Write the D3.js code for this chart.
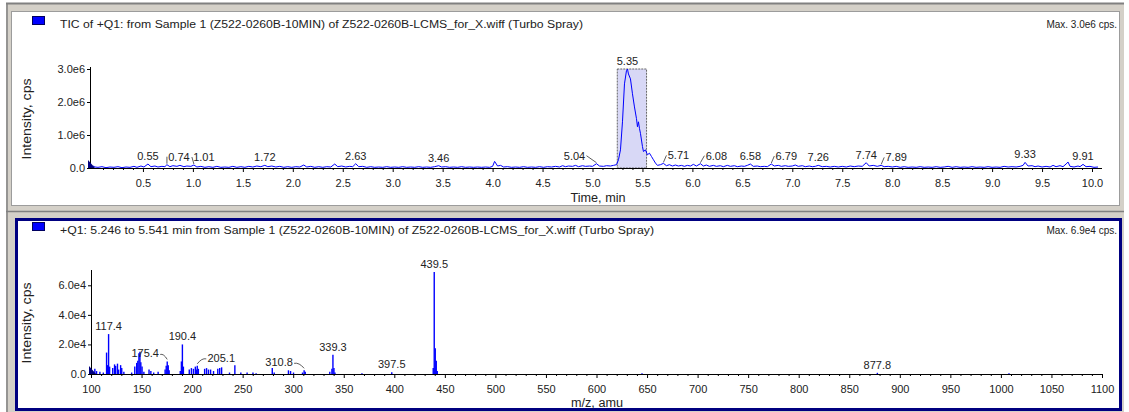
<!DOCTYPE html>
<html><head><meta charset="utf-8">
<script src="https://cdn.jsdelivr.net/npm/d3@7"></script>
<style>
html,body{margin:0;padding:0;background:#fff;}
svg{display:block;font-family:"Liberation Sans",Arial,sans-serif;}
</style></head>
<body><svg id="c" width="1129" height="412"></svg>
<script>
// ---------- DATA ----------
const ticTitle = "TIC of +Q1: from Sample 1 (Z522-0260B-10MIN) of Z522-0260B-LCMS_for_X.wiff (Turbo Spray)";
const ticMax = "Max. 3.0e6 cps.";
const ticXTicks = [0.5,1.0,1.5,2.0,2.5,3.0,3.5,4.0,4.5,5.0,5.5,6.0,6.5,7.0,7.5,8.0,8.5,9.0,9.5,10.0];
const ticYTicks = [0, 1e6, 2e6, 3e6];
const ticYLabels = ["0.0","1.0e6","2.0e6","3.0e6"];
const ticSelection = [5.248, 5.541];
// TIC trace: [time (min), intensity (x1e6 cps)]
const ticTrace = [
[0.00,0.06],[0.02,0.03],[0.05,0.02],[0.09,0.04],[0.13,0.01],[0.17,0.03],[0.21,0.02],[0.25,0.04],[0.29,0.01],[0.33,0.03],[0.37,0.02],[0.41,0.05],[0.44,0.02],[0.48,0.06],[0.51,0.03],[0.55,0.12],[0.58,0.04],[0.62,0.06],[0.65,0.03],[0.69,0.05],[0.72,0.04],[0.74,0.10],[0.77,0.04],[0.80,0.07],[0.84,0.05],[0.87,0.08],[0.91,0.04],[0.94,0.06],[0.98,0.05],[1.01,0.09],[1.04,0.03],[1.08,0.05],[1.12,0.02],[1.16,0.04],[1.20,0.02],[1.24,0.05],[1.28,0.02],[1.32,0.03],[1.36,0.02],[1.40,0.05],[1.44,0.02],[1.48,0.04],[1.52,0.02],[1.56,0.05],[1.60,0.03],[1.64,0.06],[1.68,0.04],[1.72,0.08],[1.75,0.04],[1.79,0.06],[1.83,0.03],[1.87,0.05],[1.91,0.02],[1.95,0.04],[1.99,0.02],[2.03,0.04],[2.07,0.03],[2.11,0.09],[2.14,0.03],[2.18,0.05],[2.22,0.02],[2.26,0.04],[2.30,0.02],[2.34,0.04],[2.38,0.03],[2.42,0.12],[2.45,0.04],[2.49,0.06],[2.53,0.03],[2.57,0.05],[2.60,0.04],[2.63,0.13],[2.66,0.04],[2.70,0.05],[2.74,0.02],[2.78,0.04],[2.82,0.02],[2.86,0.03],[2.90,0.02],[2.94,0.04],[2.98,0.02],[3.02,0.03],[3.06,0.02],[3.10,0.04],[3.14,0.02],[3.18,0.03],[3.22,0.02],[3.26,0.04],[3.30,0.02],[3.34,0.03],[3.38,0.02],[3.42,0.04],[3.46,0.07],[3.49,0.03],[3.53,0.04],[3.57,0.02],[3.61,0.03],[3.65,0.02],[3.69,0.04],[3.73,0.02],[3.77,0.03],[3.81,0.02],[3.85,0.03],[3.89,0.02],[3.93,0.03],[3.97,0.02],[4.00,0.05],[4.02,0.20],[4.05,0.06],[4.08,0.08],[4.11,0.03],[4.15,0.04],[4.19,0.02],[4.23,0.03],[4.27,0.02],[4.31,0.04],[4.35,0.02],[4.39,0.03],[4.43,0.02],[4.47,0.04],[4.51,0.02],[4.55,0.04],[4.59,0.03],[4.63,0.05],[4.67,0.03],[4.70,0.07],[4.73,0.04],[4.76,0.06],[4.80,0.05],[4.83,0.08],[4.86,0.04],[4.90,0.07],[4.93,0.05],[4.97,0.06],[5.00,0.05],[5.04,0.13],[5.07,0.06],[5.11,0.05],[5.14,0.07],[5.18,0.06],[5.21,0.08],[5.24,0.10],[5.26,0.25],[5.28,0.55],[5.30,1.40],[5.32,2.55],[5.34,2.95],[5.35,3.00],[5.36,2.85],[5.38,2.70],[5.40,2.25],[5.42,1.85],[5.44,1.50],[5.45,1.25],[5.46,1.40],[5.47,1.20],[5.48,1.05],[5.50,0.65],[5.51,0.50],[5.53,0.55],[5.55,0.40],[5.57,0.45],[5.59,0.35],[5.61,0.25],[5.63,0.15],[5.65,0.08],[5.68,0.10],[5.71,0.14],[5.74,0.07],[5.77,0.10],[5.80,0.06],[5.83,0.09],[5.86,0.06],[5.89,0.08],[5.92,0.05],[5.95,0.08],[5.98,0.06],[6.01,0.11],[6.04,0.06],[6.08,0.13],[6.11,0.06],[6.14,0.09],[6.17,0.05],[6.21,0.08],[6.24,0.05],[6.28,0.07],[6.31,0.04],[6.35,0.08],[6.38,0.05],[6.42,0.07],[6.45,0.04],[6.49,0.06],[6.52,0.05],[6.55,0.08],[6.58,0.12],[6.61,0.05],[6.65,0.06],[6.68,0.04],[6.72,0.05],[6.75,0.04],[6.79,0.12],[6.82,0.06],[6.86,0.08],[6.89,0.05],[6.93,0.07],[6.96,0.05],[7.00,0.06],[7.03,0.09],[7.06,0.05],[7.10,0.07],[7.13,0.04],[7.17,0.06],[7.20,0.04],[7.23,0.05],[7.26,0.08],[7.30,0.04],[7.34,0.05],[7.38,0.03],[7.42,0.05],[7.46,0.03],[7.50,0.05],[7.54,0.03],[7.58,0.06],[7.62,0.04],[7.66,0.06],[7.70,0.05],[7.74,0.16],[7.77,0.06],[7.81,0.08],[7.85,0.05],[7.89,0.08],[7.92,0.04],[7.96,0.05],[8.00,0.03],[8.04,0.05],[8.08,0.02],[8.12,0.04],[8.16,0.02],[8.20,0.03],[8.24,0.02],[8.28,0.04],[8.32,0.02],[8.36,0.03],[8.40,0.02],[8.44,0.04],[8.48,0.02],[8.52,0.03],[8.56,0.05],[8.60,0.02],[8.64,0.04],[8.68,0.02],[8.72,0.03],[8.76,0.02],[8.80,0.04],[8.84,0.02],[8.88,0.03],[8.92,0.02],[8.96,0.04],[9.00,0.02],[9.04,0.03],[9.08,0.02],[9.12,0.05],[9.16,0.03],[9.20,0.04],[9.24,0.03],[9.28,0.05],[9.31,0.08],[9.33,0.17],[9.36,0.06],[9.40,0.07],[9.43,0.04],[9.46,0.06],[9.50,0.03],[9.54,0.05],[9.58,0.03],[9.61,0.08],[9.64,0.04],[9.68,0.07],[9.71,0.04],[9.74,0.12],[9.76,0.18],[9.78,0.05],[9.82,0.03],[9.86,0.06],[9.88,0.04],[9.91,0.11],[9.94,0.04],[9.98,0.05],[10.02,0.02],[10.06,0.03]
];
const ticPeakLabels = ["0.55","0.74","1.01","1.72","2.63","3.46","5.04","5.35","5.71","6.08","6.58","6.79","7.26","7.74","7.89","9.33","9.91"];

const msTitle = "+Q1: 5.246 to 5.541 min from Sample 1 (Z522-0260B-10MIN) of Z522-0260B-LCMS_for_X.wiff (Turbo Spray)";
const msMax = "Max. 6.9e4 cps.";
const msXTicks = [100,150,200,250,300,350,400,450,500,550,600,650,700,750,800,850,900,950,1000,1050,1100];
const msYTicks = [0, 2e4, 4e4, 6e4];
const msYLabels = ["0.0","2.0e4","4.0e4","6.0e4"];
// Mass spectrum sticks: [m/z, intensity (x1e4 cps)]
const msSticks = [
[101.5,0.15],[103.8,0.35],[105.5,0.2],[108.8,0.15],[112.2,0.1],[115.4,1.45],[116.3,0.6],[117.4,2.7],[118.4,0.5],[121.5,0.4],[123.3,0.65],[124.4,0.55],[126.2,0.7],[127.3,0.3],[129.3,0.6],[130.4,0.4],[132.5,0.15],[140.2,0.1],[143.3,0.5],[145.2,0.75],[146.3,0.9],[147.4,1.4],[148.4,1.5],[149.3,0.8],[150.5,0.5],[152.3,0.15],[157.4,0.3],[159.2,0.2],[162.0,0.1],[166.4,0.15],[173.3,0.3],[174.4,0.55],[175.4,0.85],[176.4,0.6],[177.3,0.25],[188.3,0.2],[189.4,0.85],[190.4,2.0],[191.4,0.5],[197.2,0.3],[199.3,0.4],[201.3,0.35],[203.2,0.5],[204.2,0.3],[205.1,0.55],[206.2,0.35],[212.4,0.35],[214.3,0.4],[216.2,0.3],[218.3,0.3],[221.2,0.2],[225.4,0.35],[227.3,0.4],[229.2,0.45],[237.0,0.1],[242.3,0.6],[248.2,0.1],[254.4,0.1],[260.2,0.1],[263.3,0.05],[279.3,0.4],[281.2,0.1],[295.3,0.25],[297.4,0.2],[300.3,0.1],[309.2,0.1],[310.8,0.25],[311.9,0.15],[336.2,0.15],[338.3,0.35],[339.3,1.3],[340.3,0.4],[341.3,0.1],[368.0,0.05],[397.5,0.12],[438.5,0.4],[439.5,6.9],[440.5,1.75],[441.5,0.9],[442.5,0.2],[645.0,0.05],[877.8,0.08],[1008.0,0.05]
];
const msPeakLabels = ["117.4","175.4","190.4","205.1","310.8","339.3","397.5","439.5","877.8"];

// ---------- LAYOUT ----------
const svg = d3.select("#c");
const FONT = "11px";
const TXT = "#222";
const BLUE = "#0000ff";

// window frame
svg.append("rect").attr("x",6).attr("y",3).attr("width",1118).attr("height",409).attr("fill","#d4d0c8");
svg.append("line").attr("x1",6).attr("x2",1124).attr("y1",3.5).attr("y2",3.5).attr("stroke","#808080").attr("stroke-width",2);
svg.append("line").attr("x1",7).attr("x2",7).attr("y1",3).attr("y2",412).attr("stroke","#808080").attr("stroke-width",1.5);
svg.append("line").attr("x1",6).attr("x2",1124).attr("y1",211.5).attr("y2",211.5).attr("stroke","#808080").attr("stroke-width",1.5);
// top pane
svg.append("rect").attr("x",11.5).attr("y",11.5).attr("width",1108).attr("height",194).attr("fill","#fff").attr("stroke","#9c9c9c");
// bottom pane (active)
svg.append("rect").attr("x",16.5).attr("y",219.5).attr("width",1104).attr("height",190).attr("fill","#fff").attr("stroke","#000080").attr("stroke-width",3);

function paneHeader(y, title, titleLen, maxText){
  svg.append("rect").attr("x",32.5).attr("y",y-11.5).attr("width",12).attr("height",8).attr("fill","#0000ff").attr("stroke","#000060");
  svg.append("text").attr("x",60).attr("y",y).attr("font-size","10px").attr("fill",TXT)
    .attr("textLength",titleLen).attr("lengthAdjust","spacingAndGlyphs").text(title);
  svg.append("text").attr("x",1117).attr("y",y).attr("font-size","10px").attr("fill",TXT)
    .attr("text-anchor","end").text(maxText);
}

function axes(x, y, xTicks, xMinor, yTicks, yLabels, xFmt, x0, y0, yTop, xEnd){
  // x axis
  const gx = svg.append("g").attr("transform",`translate(0,${y0})`)
    .call(d3.axisBottom(x).tickValues(xTicks).tickSize(4).tickPadding(7).tickFormat(xFmt));
  gx.select(".domain").remove();
  gx.append("line").attr("x1",x0).attr("x2",xEnd).attr("y1",0.5).attr("y2",0.5).attr("stroke","#000");
  gx.selectAll("text").attr("font-size",FONT).attr("fill",TXT).attr("font-family","Liberation Sans, Arial, sans-serif");
  const gm = svg.append("g").attr("transform",`translate(0,${y0})`)
    .call(d3.axisBottom(x).tickValues(xMinor).tickSize(2).tickFormat(""));
  gm.select(".domain").remove();
  // y axis
  const gy = svg.append("g").attr("transform",`translate(${x0},0)`)
    .call(d3.axisLeft(y).tickValues(yTicks).tickSize(3).tickPadding(2).tickFormat((d,i)=>yLabels[i]));
  gy.select(".domain").remove();
  gy.append("line").attr("x1",0.5).attr("x2",0.5).attr("y1",y0+0.5).attr("y2",yTop).attr("stroke","#000");
  gy.selectAll("text").attr("font-size",FONT).attr("fill",TXT).attr("font-family","Liberation Sans, Arial, sans-serif");
  // start marker
  svg.append("path").attr("d",`M${x0-2},${y0-8} L${x0+5},${y0} L${x0-2},${y0} Z`).attr("fill","#000080");
}

function yTitle(cx, cy, len){
  svg.append("text").attr("transform",`translate(${cx},${cy}) rotate(-90)`).attr("text-anchor","middle")
    .attr("font-size","12.5px").attr("fill",TXT).attr("textLength",len).attr("lengthAdjust","spacingAndGlyphs").text("Intensity, cps");
}

// ---------- TOP: TIC ----------
paneHeader(28, ticTitle, 523, ticMax);
const xT = d3.scaleLinear().domain([-0.03, 10.1]).range([90, 1102]);
const yT = d3.scaleLinear().domain([0, 3.0]).range([168, 69]);

svg.append("rect").attr("x",xT(ticSelection[0])).attr("y",yT(3.0))
  .attr("width",xT(ticSelection[1])-xT(ticSelection[0])).attr("height",yT(0)-yT(3.0))
  .attr("fill","#d8d8f6").attr("stroke","#666").attr("stroke-dasharray","2,1");

svg.append("path").datum(ticTrace).attr("fill","none").attr("stroke",BLUE).attr("stroke-width",1)
  .attr("d", d3.line().x(d=>xT(d[0])).y(d=>yT(d[1])));

const ticMinor = d3.range(1, 101).map(i=>i/10).filter(v=>Math.abs(v*2-Math.round(v*2))>1e-6);
axes(xT, yT, ticXTicks, ticMinor, ticYTicks.map(v=>v/1e6), ticYLabels, d3.format(".1f"), 90, 168, 67, 1102);
yTitle(31, 119, 81);
svg.append("text").attr("x",598).attr("y",202).attr("text-anchor","middle").attr("font-size","12px").attr("fill",TXT)
  .attr("textLength",55).attr("lengthAdjust","spacingAndGlyphs").text("Time, min");

// peak labels (label offsets in px for crowded labels)
const ticShift = {"0.74":12,"1.01":10,"5.04":-22,"5.71":15,"6.08":16,"6.79":15,"7.89":15};
ticPeakLabels.forEach(lbl=>{
  const t = +lbl;
  const pt = ticTrace.reduce((a,b)=>Math.abs(b[0]-t)<Math.abs(a[0]-t)?b:a);
  const px = xT(t), py = yT(pt[1]);
  const dx = ticShift[lbl] || 0;
  svg.append("text").attr("x",px+dx).attr("y",py-4).attr("text-anchor","middle")
    .attr("font-size",FONT).attr("fill",TXT).text(lbl);
  if(dx){
    const ex = dx>0 ? px+dx-12 : px+dx+12;
    svg.append("path").attr("d",`M${ex},${py-8} L${px},${py-1}`).attr("stroke","#333").attr("fill","none").attr("stroke-width",0.8);
  }
});

// ---------- BOTTOM: spectrum ----------
paneHeader(234, msTitle, 594, msMax);
const xM = d3.scaleLinear().domain([100, 1100]).range([91, 1102]);
const yM = d3.scaleLinear().domain([0, 6.9]).range([374, 272]);

svg.append("g").selectAll("line").data(msSticks).join("line")
  .attr("x1",d=>xM(d[0])).attr("x2",d=>xM(d[0]))
  .attr("y1",yM(0)).attr("y2",d=>yM(d[1]))
  .attr("stroke",BLUE).attr("stroke-width",1.4);

const msMinor = d3.range(110, 1100, 10).filter(v=>v%50!==0);
axes(xM, yM, msXTicks, msMinor, msYTicks.map(v=>v/1e4), msYLabels, d3.format("d"), 91, 374, 270, 1102);
yTitle(31, 323, 81);
svg.append("text").attr("x",597).attr("y",407).attr("text-anchor","middle").attr("font-size","12px").attr("fill",TXT)
  .attr("textLength",52).attr("lengthAdjust","spacingAndGlyphs").text("m/z, amu");

const msShift = {"175.4":-22,"205.1":24,"310.8":-25};
msPeakLabels.forEach(lbl=>{
  const m = +lbl;
  const pt = msSticks.reduce((a,b)=>Math.abs(b[0]-m)<Math.abs(a[0]-m)?b:a);
  const px = xM(m), py = yM(pt[1]);
  const dx = msShift[lbl] || 0;
  svg.append("text").attr("x",px+dx).attr("y",py-4).attr("text-anchor","middle")
    .attr("font-size",FONT).attr("fill",TXT).text(lbl);
  if(dx){
    const ex = dx>0 ? px+dx-15 : px+dx+15;
    svg.append("path").attr("d",`M${ex},${py-7} Q${(ex+px)/2},${py-8} ${px},${py-2}`).attr("stroke","#333").attr("fill","none").attr("stroke-width",0.8);
  }
});
</script></body></html>
